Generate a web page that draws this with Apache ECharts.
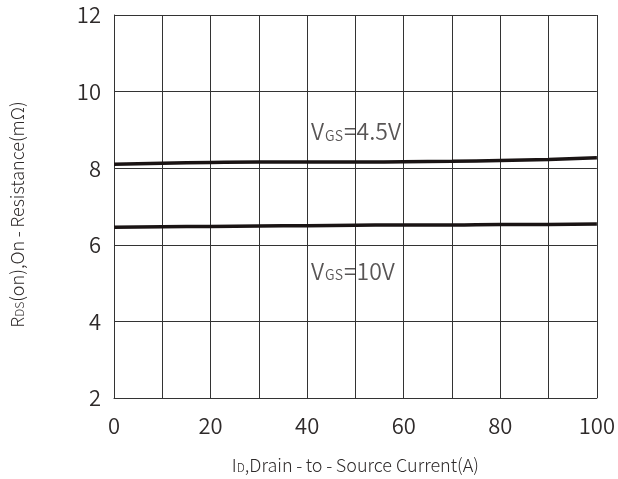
<!DOCTYPE html>
<html>
<head>
<meta charset="utf-8">
<script src="https://cdn.jsdelivr.net/npm/echarts@6/dist/echarts.min.js"></script>
<style>
html,body{margin:0;padding:0;background:#fff;}
#chart{width:618px;height:479px;}
</style>
</head>
<body>
<div id="chart"></div>
<script>
const currents = [0, 10, 20, 30, 40, 50, 60, 70, 80, 90, 100];
const rdsVgs45 = [8.10, 8.13, 8.15, 8.16, 8.16, 8.16, 8.17, 8.18, 8.20, 8.23, 8.27];
const rdsVgs10 = [6.46, 6.47, 6.48, 6.49, 6.50, 6.51, 6.52, 6.52, 6.53, 6.53, 6.54];
const xTickLabels = [0, 20, 40, 60, 80, 100];
const yTickLabels = [2, 4, 6, 8, 10, 12];
const curveLabels = [
  { x: 40.8, y: 8.96, sub: 'GS', val: '=4.5V' },
  { x: 40.8, y: 5.32, sub: 'GS', val: '=10V' }
];

const FONT = '"Noto Sans CJK SC", "Noto Sans", sans-serif';
const TXT = '#2e2a2a';
const W = 350;
const chart = echarts.init(document.getElementById('chart'), null, { renderer: 'canvas' });

const richText = {
  v: { fontSize: 23, color: TXT, fontFamily: FONT, fontWeight: W },
  s: { fontSize: 14, color: TXT, fontFamily: FONT, fontWeight: W, padding: [8, 1, 0, 1] }
};
const nameRich = {
  s: { fontSize: 18, color: TXT, fontFamily: FONT, fontWeight: 300 },
  sub: { fontSize: 12, color: TXT, fontFamily: FONT, fontWeight: 300, padding: [5, 0, 0, 0] }
};

chart.setOption({
  animation: false,
  backgroundColor: '#fff',
  grid: { left: 107, top: 15, width: 490, height: 385, containLabel: false },
  xAxis: {
    type: 'value', min: 0, max: 100, interval: 10,
    name: '{s|I}{sub|D}{s|,Drain\u2009-\u2009to\u2009-\u2009Source Current(A)}',
    nameLocation: 'middle', nameGap: 58,
    nameTextStyle: { rich: nameRich },
    axisLine: { show: true, lineStyle: { color: '#333', width: 1 } },
    axisTick: { show: false },
    axisLabel: {
      margin: 17, fontSize: 22, color: TXT, fontFamily: FONT, fontWeight: W,
      formatter: v => xTickLabels.includes(v) ? String(v) : ''
    },
    splitLine: { show: true, lineStyle: { color: '#333', width: 1 } }
  },
  yAxis: {
    type: 'value', min: 2, max: 12, interval: 2,
    name: '{s|R}{sub|DS}{s|(on),On\u2009-\u2009Resistance(mΩ)}',
    nameLocation: 'middle', nameGap: 88, nameRotate: 90,
    nameTextStyle: { rich: nameRich, padding: [0, 16, 0, 0] },
    axisLine: { show: true, lineStyle: { color: '#333', width: 1 } },
    axisTick: { show: false },
    axisLabel: {
      margin: 13, fontSize: 22, color: TXT, fontFamily: FONT, fontWeight: W,
      formatter: v => yTickLabels.includes(v) ? String(v) : ''
    },
    splitLine: { show: true, lineStyle: { color: '#333', width: 1 } }
  },
  series: [
    {
      type: 'line', name: 'VGS=4.5V', smooth: true, showSymbol: false,
      data: currents.map((x, i) => [x, rdsVgs45[i]]),
      lineStyle: { color: '#1a1414', width: 3.5 }
    },
    {
      type: 'line', name: 'VGS=10V', smooth: true, showSymbol: false,
      data: currents.map((x, i) => [x, rdsVgs10[i]]),
      lineStyle: { color: '#1a1414', width: 3.5 }
    },
    {
      type: 'scatter', symbolSize: 0, silent: true,
      data: curveLabels.map(c => ({
        value: [c.x, c.y],
        label: {
          show: true, position: 'right', distance: 0,
          formatter: '{v|V}{s|' + c.sub + '}{v|' + c.val + '}',
          rich: richText
        }
      }))
    }
  ]
});
</script>
</body>
</html>
